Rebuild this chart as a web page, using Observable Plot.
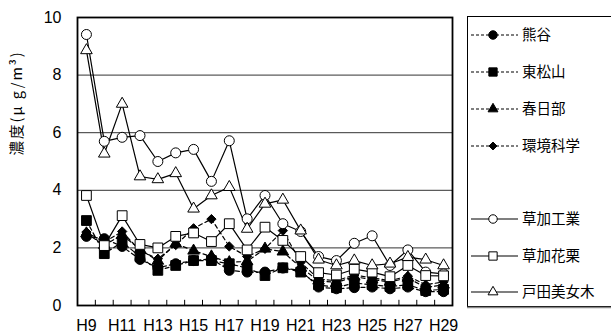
<!DOCTYPE html>
<html>
<head>
<meta charset="utf-8">
<script src="https://cdn.jsdelivr.net/npm/d3@7"></script>
<script src="https://cdn.jsdelivr.net/npm/@observablehq/plot@0.6"></script>
<style>
  html, body { margin: 0; padding: 0; background: #fff; }
  #wrap { position: relative; width: 611px; height: 335px; overflow: hidden; }
  #legend { position: absolute; left: 0; top: 0; }
  text { font-weight: normal; }
</style>
</head>
<body>
<div id="wrap"></div>
<script>
// ---- data ----
const years = ["H9","H10","H11","H12","H13","H14","H15","H16","H17","H18","H19","H20","H21","H22","H23","H24","H25","H26","H27","H28","H29"];
const seriesNames = ["熊谷","東松山","春日部","環境科学","草加工業","草加花栗","戸田美女木"];
const kumagaya   = [2.40,2.32,2.05,1.60,1.31,1.45,1.56,1.62,1.22,1.16,1.16,1.30,1.22,0.64,0.58,0.62,0.64,0.58,0.64,0.48,0.48];
const higashimatsuyama = [2.95,1.80,2.20,1.70,1.22,1.39,1.56,1.56,1.45,1.30,1.04,1.31,1.16,0.72,0.62,0.78,0.72,0.66,0.72,0.52,0.56];
const kasukabe   = [2.50,2.10,2.45,1.95,1.55,2.15,1.90,1.70,1.50,1.53,1.97,1.87,1.32,0.86,0.80,1.00,0.90,0.82,0.96,0.62,0.72];
const kankyo     = [2.55,2.20,2.57,1.90,1.62,2.10,2.68,3.00,2.05,1.70,1.97,2.60,1.50,0.92,0.86,1.06,0.96,0.86,1.02,0.72,0.82];
const sokaKogyo  = [9.41,5.70,5.84,5.90,5.00,5.30,5.42,4.31,5.72,3.01,3.82,2.84,2.57,1.70,1.56,2.16,2.42,1.39,1.93,1.16,1.10];
const sokaKaguri = [3.82,2.08,3.12,2.12,2.00,2.40,2.52,2.22,2.84,1.93,2.72,2.26,1.70,1.14,1.06,1.26,1.16,1.00,1.39,1.04,1.03];
const todaBijogi = [8.86,5.27,7.00,4.48,4.38,4.59,3.36,3.82,4.11,2.66,3.53,3.67,2.60,1.59,1.39,1.56,1.39,1.45,1.68,1.59,1.39];
const yTicks = [0,2,4,6,8,10];
const yLabel = "濃度(μ g/m³)";

// ---- styles (kept separate from data) ----
const seriesValues = [kumagaya, higashimatsuyama, kasukabe, kankyo, sokaKogyo, sokaKaguri, todaBijogi];
const styles = [
  {symbol: "circle",   fill: "black", dash: "4,3", r: 5},
  {symbol: "square",   fill: "black", dash: "4,3", r: 5.5},
  {symbol: "triangle", fill: "black", dash: "4,3", r: 4.3},
  {symbol: "diamond2", fill: "black", dash: "4,3", r: 4.2},
  {symbol: "circle",   fill: "white", dash: null,  r: 5},
  {symbol: "square",   fill: "white", dash: null,  r: 5.5},
  {symbol: "triangle", fill: "white", dash: null,  r: 4.3}
];

const FONT = "'Liberation Sans', Arial, sans-serif";
const JFONT = "'Noto Sans CJK JP', sans-serif";

const marks = [
  Plot.ruleY([2,4,6,8], {stroke: "#333", strokeWidth: 1}),
  Plot.ruleX(d3.range(0.5, years.length - 0.5, 1), {y1: 0, y2: 0.18, stroke: "black", strokeWidth: 1})
];
seriesNames.forEach((name, k) => {
  const st = styles[k];
  const data = seriesValues[k].map((v, i) => ({name, i, v}));
  marks.push(Plot.line(data, {x: "i", y: "v", stroke: "black", strokeWidth: 1.2, strokeDasharray: st.dash || undefined}));
});
seriesNames.forEach((name, k) => {
  const st = styles[k];
  const data = seriesValues[k].map((v, i) => ({name, i, v}));
  marks.push(Plot.dot(data, {x: "i", y: "v", symbol: () => st.symbol, r: st.r, fill: st.fill, stroke: "black", strokeWidth: 1}));
});
marks.push(
  Plot.frame({stroke: "black", strokeWidth: 1.8}),
  Plot.axisX(d3.range(0, years.length, 2), {tickSize: 0, tickPadding: 14, tickFormat: i => years[i], fontSize: 16, fontWeight: "normal", label: null}),
  Plot.axisY(yTicks, {tickSize: 0, tickPadding: 16, fontSize: 16, fontWeight: "normal", label: null}),
  Plot.text([yLabel], {frameAnchor: "left", rotate: -90, dx: -60, dy: -6, fontSize: 14.5, fontWeight: "normal", fontFamily: JFONT})
);

const chart = Plot.plot({
  width: 611, height: 335,
  marginLeft: 77, marginRight: 159, marginTop: 17, marginBottom: 30,
  style: {fontFamily: FONT, fontSize: "16px", fontWeight: "normal", color: "black", background: "white", overflow: "visible"},
  x: {domain: [-0.5, years.length - 0.5], axis: null},
  y: {domain: [0, 10], axis: null},
  symbol: {type: "identity"},
  marks
});
d3.select(chart).selectAll("text").filter(function() { return this.textContent === yLabel; })
  .attr("letter-spacing", "2px");
const wrap = document.getElementById("wrap");
wrap.appendChild(chart);

// ---- legend (right box) ----
const svg = d3.select(wrap).append("svg").attr("id", "legend").attr("width", 611).attr("height", 335);
svg.append("rect").attr("x", 467.5).attr("y", 16.5).attr("width", 160).attr("height", 290)
  .attr("fill", "white").attr("stroke", "black").attr("stroke-width", 1);
svg.append("line").attr("x1", 467).attr("x2", 611).attr("y1", 307.5).attr("y2", 307.5).attr("stroke", "#888").attr("stroke-width", 1.5);
const legendY = [35, 72, 109, 146, 219, 256, 292];
const symMap = {circle: d3.symbolCircle, square: d3.symbolSquare, triangle: d3.symbolTriangle, diamond2: d3.symbolDiamond2};
seriesNames.forEach((name, k) => {
  const st = styles[k];
  const y = legendY[k];
  const g = svg.append("g");
  g.append("line").attr("x1", 471).attr("x2", 518).attr("y1", y).attr("y2", y)
    .attr("stroke", "black").attr("stroke-width", 1.2).attr("stroke-dasharray", st.dash ? "3,2" : null);
  const rr = st.r * 0.85;
  g.append("path").attr("d", d3.symbol(symMap[st.symbol], Math.PI * rr * rr)())
    .attr("transform", `translate(493,${y})`).attr("fill", st.fill).attr("stroke", "black").attr("stroke-width", 1);
  g.append("text").attr("x", 522).attr("y", y).attr("dy", "0.35em")
    .attr("font-family", JFONT).attr("font-weight", "normal").attr("font-size", 14.5).text(name);
});
</script>
</body>
</html>
